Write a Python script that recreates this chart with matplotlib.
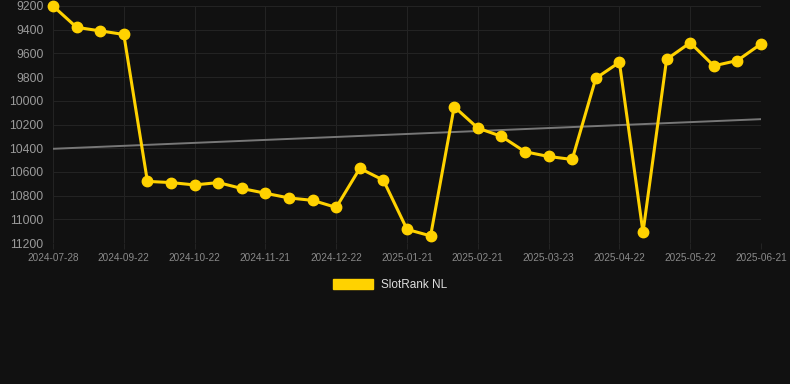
import matplotlib
matplotlib.use("Agg")
from matplotlib import pyplot as plt
from matplotlib.patches import Patch

# Tick labels shown under every third point
tick_labels = ['2024-07-28', '2024-09-22', '2024-10-22', '2024-11-21', '2024-12-22',
               '2025-01-21', '2025-02-21', '2025-03-23', '2025-04-22', '2025-05-22',
               '2025-06-21']

# SlotRank NL rank values (31 points)
rank_values = [9200, 9380, 9410, 9440, 10680, 10690, 10710, 10690, 10740, 10780,
               10820, 10840, 10900, 10570, 10670, 11085, 11140, 10050, 10230, 10300,
               10430, 10470, 10495, 9810, 9675, 11110, 9650, 9510, 9705, 9660, 9520]

# Trend line end values
trend_values = [10405, 10155]

y_ticks = [9200, 9400, 9600, 9800, 10000, 10200, 10400, 10600, 10800, 11000, 11200]

bg = '#111111'
yellow = '#FFD200'

plt.rcParams['font.family'] = ['Liberation Sans', 'DejaVu Sans']

fig = plt.figure(figsize=(7.9, 3.84), dpi=100, facecolor=bg)
ax = fig.add_axes([53 / 790, 1 - 243 / 384, 708 / 790, 237 / 384], facecolor=bg)

x = list(range(len(rank_values)))
ax.plot([x[0], x[-1]], trend_values, color='#777777', linewidth=1.4, zorder=2)
ax.plot(x, rank_values, color=yellow, linewidth=2.2, marker='o', markersize=7.5,
        clip_on=False, zorder=3)

ax.set_xlim(0, len(rank_values) - 1)
ax.set_ylim(11200, 9200)
ax.set_yticks(y_ticks)
ax.set_yticklabels([str(v) for v in y_ticks])
ax.set_xticks(x[::3])
ax.set_xticklabels(tick_labels)

ax.grid(True, color='#232323', linewidth=0.8)
ax.set_axisbelow(True)
for s in ax.spines.values():
    s.set_visible(False)
ax.tick_params(axis='y', length=0, pad=7, labelsize=8.7, labelcolor='#9a9a9a')
ax.tick_params(axis='x', length=4, color='#232323', pad=3, labelsize=7.2, labelcolor='#8a8a8a')

handle = Patch(facecolor=yellow, edgecolor=yellow)
fig.legend([handle], ['SlotRank NL'], loc='center', bbox_to_anchor=(390 / 790, 1 - 285 / 384),
           frameon=False, fontsize=8.5, labelcolor='#dddddd', handlelength=3.4,
           handleheight=0.95, handletextpad=0.6)

fig.savefig('out.png', facecolor=bg)
